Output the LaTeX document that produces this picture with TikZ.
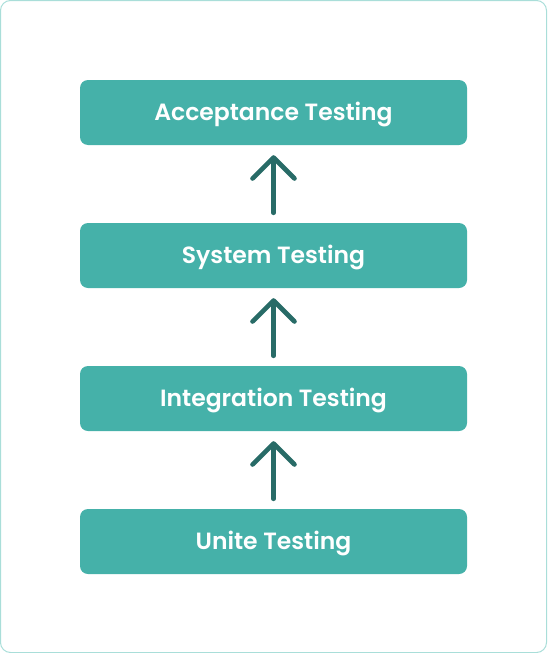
\documentclass[tikz,border=0pt]{standalone}
\usepackage{fontspec}
\setmainfont{Poppins}[UprightFont={* SemiBold}]
\usetikzlibrary{arrows.meta}
\definecolor{boxfill}{HTML}{45B1A9}
\definecolor{arrowc}{HTML}{286B67}
\definecolor{framec}{HTML}{A9DED9}
\tikzset{
  stagebox/.style={draw=none, fill=boxfill, rounded corners=8pt, minimum width=387pt, minimum height=65pt,
    inner sep=0pt, text height=16.5pt, text depth=0pt, text=white, font=\fontsize{23.5}{26}\selectfont},
  uparrow/.style={draw=arrowc, line width=4.6pt, line cap=round,
    -{Straight Barb[round, length=21pt, width=42pt]}}
}
\begin{document}
\begin{tikzpicture}[x=1pt,y=-1pt]
\useasboundingbox (0,0) rectangle (547,653);
\draw[framec, line width=1pt, rounded corners=10pt] (0.5,0.5) rectangle (546.5,652.5);
\node[stagebox] (acc) at (273.5,112.5) {Acceptance Testing};
\node[stagebox] (sys) at (273.5,255.5) {System Testing};
\node[stagebox] (int) at (273.5,398.5) {Integration Testing};
\node[stagebox] (uni) at (273.5,541.5) {Unite Testing};
\draw[uparrow] ([yshift=10pt]sys.north) -- ([yshift=-10pt]acc.south);
\draw[uparrow] ([yshift=10pt]int.north) -- ([yshift=-10pt]sys.south);
\draw[uparrow] ([yshift=10pt]uni.north) -- ([yshift=-10pt]int.south);
\end{tikzpicture}
\end{document}
